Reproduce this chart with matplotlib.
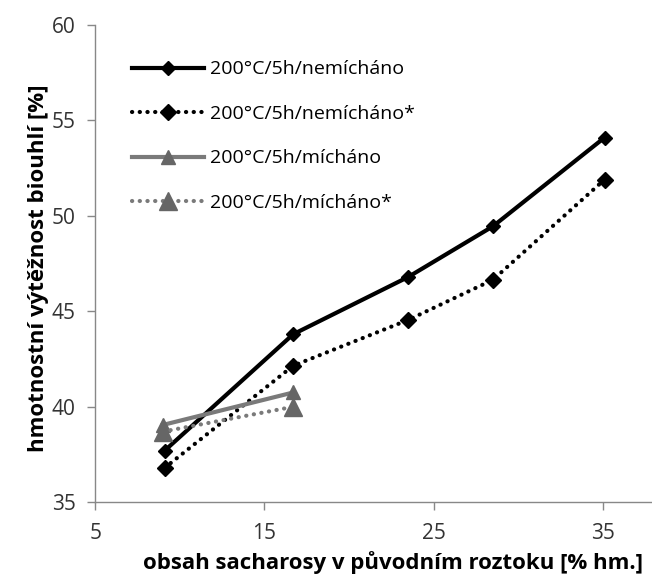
import matplotlib.pyplot as plt

# data
x_nemichano = [9.1, 16.7, 23.5, 28.5, 35.1]
y_nemichano = [37.7, 43.8, 46.8, 49.45, 54.1]
y_nemichano_star = [36.8, 42.15, 44.55, 46.65, 51.9]

x_michano = [9.0, 16.7]
y_michano = [39.05, 40.75]
y_michano_star = [38.7, 40.0]

labels = ['200°C/5h/nemícháno', '200°C/5h/nemícháno*',
          '200°C/5h/mícháno', '200°C/5h/mícháno*']

plt.rcParams['font.family'] = ['Open Sans', 'DejaVu Sans']

fig = plt.figure(figsize=(6.52, 5.78), dpi=100)
ax = fig.add_axes([0.146, 0.131, 0.854, 0.826])

gray = '#7a7a7a'
dots = (0, (0.05, 1.8))
ax.plot(x_nemichano, y_nemichano, color='black', lw=3, marker='D', ms=7,
        label=labels[0])
ax.plot(x_nemichano, y_nemichano_star, color='black', lw=3, ls=dots,
        dash_capstyle='round', marker='D', ms=8, label=labels[1])
ax.plot(x_michano, y_michano, color=gray, lw=3, marker='^', ms=10,
        markerfacecolor='#666666', markeredgecolor='#666666', label=labels[2])
ax.plot(x_michano, y_michano_star, color=gray, lw=3, ls=dots,
        dash_capstyle='round', marker='^', ms=13,
        markerfacecolor='#666666', markeredgecolor='#666666', label=labels[3])

ax.set_xlim(5, 37.9)
ax.set_ylim(35, 60)
ax.set_xticks([5, 15, 25, 35])
ax.set_yticks([35, 40, 45, 50, 55, 60])

for side in ['top', 'right']:
    ax.spines[side].set_visible(False)
for side in ['left', 'bottom']:
    ax.spines[side].set_color('#888888')
    ax.spines[side].set_linewidth(1)
ax.tick_params(axis='both', colors='#888888', labelcolor='#333333',
               labelsize=15, length=6, width=1, direction='out')
ax.tick_params(axis='x', pad=9)
ax.tick_params(axis='y', pad=8)

ax.set_xlabel('obsah sacharosy v původním roztoku [% hm.]', fontsize=16,
              fontweight='bold', labelpad=5, x=0.535)
ax.set_ylabel('hmotnostní výtěžnost biouhlí [%]', fontsize=16,
              fontweight='bold', labelpad=2, y=0.49)

ax.legend(loc='upper left', bbox_to_anchor=(0.035, 0.962), frameon=False,
          fontsize=14, handlelength=3.7, labelspacing=1.36, handletextpad=0.3)

fig.savefig('out.png', dpi=100)
